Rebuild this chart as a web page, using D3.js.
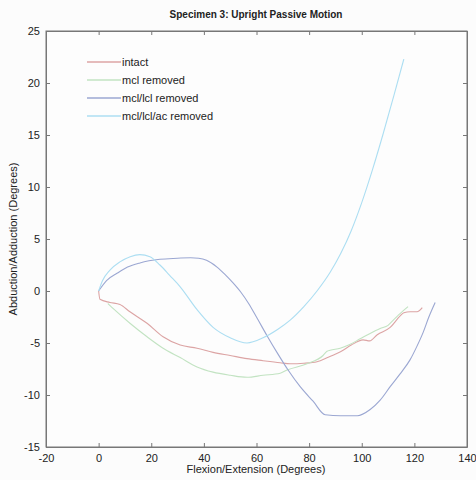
<!DOCTYPE html>
<html>
<head>
<meta charset="utf-8">
<script src="https://cdn.jsdelivr.net/npm/d3@7"></script>
<style>
  html, body { margin: 0; padding: 0; background: #fcfcfc; }
  svg { display: block; }
  text { font-family: "Liberation Sans", Arial, sans-serif; fill: #222; }
</style>
</head>
<body>
<svg id="chart" width="476" height="480"></svg>
<script>
// Flexion/extension angle (x) vs abduction/adduction angle (y), in degrees
const seriesNames = ["intact", "mcl removed", "mcl/lcl removed", "mcl/lcl/ac removed"];
const seriesColors = ["#dca4a4", "#c2e3c2", "#9ba7d2", "#acdef2"];

const intactX = [0, 0.5, 4.3, 8.1, 11.9, 18.4, 24.5, 31, 37.4, 43.5, 50, 56.4, 62.5, 69, 72.8, 78, 83, 87, 92.9, 96, 100.5, 103, 105.9, 110.8, 114.6, 116, 118.4, 121, 123];
const intactY = [0, -0.8, -1.1, -1.3, -2.0, -3.1, -4.4, -5.2, -5.5, -5.9, -6.2, -6.5, -6.7, -6.9, -7.0, -6.95, -6.8, -6.4, -5.7, -5.2, -4.7, -4.8, -4.2, -3.5, -2.4, -2.1, -2.0, -2.0, -1.6];

const mclX = [3.5, 6, 11.9, 18.4, 24.5, 31, 37.4, 43.5, 50, 56.4, 62.5, 69, 71.6, 79.2, 85.3, 86.8, 88, 91.8, 95, 99.4, 103, 107, 110, 112, 114, 117.6];
const mclY = [-1.2, -1.8, -3.1, -4.4, -5.5, -6.4, -7.3, -7.8, -8.1, -8.3, -8.1, -7.9, -7.6, -7.0, -6.2, -5.8, -5.7, -5.5, -5.2, -4.6, -4.1, -3.6, -3.3, -2.8, -2.3, -1.5];

const mclLclX = [0, 3, 7, 11, 15.7, 23.3, 30, 35, 38, 41, 45, 48, 51, 54, 57, 60.2, 64, 68, 72, 76.6, 81.5, 86.1, 92, 98.3, 103.2, 107, 110.8, 114.5, 118.4, 121, 123.3, 125.5, 127.9];
const mclLclY = [0, 1.0, 1.7, 2.3, 2.7, 3.05, 3.15, 3.2, 3.15, 2.95, 2.3, 1.6, 0.8, -0.1, -1.2, -2.6, -4.3, -6.0, -7.6, -9.2, -10.6, -11.9, -12.0, -12.0, -11.4, -10.5, -9.2, -8.0, -6.6, -5.3, -4.0, -2.5, -1.1];

const mclLclAcX = [0, 1.5, 4.3, 8.1, 12, 15.7, 19.5, 23.3, 27, 31, 37.4, 43.5, 50, 56.4, 62.5, 68, 72.8, 78, 83, 88, 92, 96, 100, 104, 108, 112, 116];
const mclLclAcY = [0, 1.0, 2.0, 2.8, 3.3, 3.5, 3.3, 2.5, 1.5, 0.4, -1.8, -3.5, -4.5, -5.0, -4.5, -3.7, -2.8, -1.5, 0.0, 1.8, 3.6, 5.8, 8.5, 11.6, 15.0, 18.6, 22.3];

const xTicks = [-20, 0, 20, 40, 60, 80, 100, 120, 140];
const yTicks = [-15, -10, -5, 0, 5, 10, 15, 20, 25];

const series = [
  { name: seriesNames[0], color: seriesColors[0], xs: intactX, ys: intactY },
  { name: seriesNames[1], color: seriesColors[1], xs: mclX, ys: mclY },
  { name: seriesNames[2], color: seriesColors[2], xs: mclLclX, ys: mclLclY },
  { name: seriesNames[3], color: seriesColors[3], xs: mclLclAcX, ys: mclLclAcY }
];

const svg = d3.select("#chart");
const plot = { left: 46, top: 31, right: 467, bottom: 447 };

const x = d3.scaleLinear().domain([-20, 140]).range([plot.left, plot.right]);
const y = d3.scaleLinear().domain([-15, 25]).range([plot.bottom, plot.top]);

// plot background and frame
svg.append("rect")
  .attr("x", plot.left).attr("y", plot.top)
  .attr("width", plot.right - plot.left).attr("height", plot.bottom - plot.top)
  .attr("fill", "#fdfdfd").attr("stroke", "#777").attr("stroke-width", 1);

// axes with inward ticks on all four sides; labels use a plain hyphen for negatives
const tickLen = 4;
const plain = d => String(d);
const axisStyle = g => {
  g.select(".domain").attr("stroke", "#777");
  g.selectAll(".tick line").attr("stroke", "#777");
  g.selectAll(".tick text")
    .style("font-family", "'Liberation Sans', Arial, sans-serif")
    .style("font-size", "11px").attr("fill", "#222");
};

svg.append("g").attr("transform", `translate(0,${plot.bottom})`)
  .call(d3.axisBottom(x).tickValues(xTicks).tickFormat(plain).tickSizeInner(-tickLen).tickSizeOuter(0).tickPadding(7))
  .call(axisStyle);
svg.append("g").attr("transform", `translate(0,${plot.top})`)
  .call(d3.axisTop(x).tickValues(xTicks).tickSizeInner(-tickLen).tickSizeOuter(0).tickFormat(""))
  .call(axisStyle);
svg.append("g").attr("transform", `translate(${plot.left},0)`)
  .call(d3.axisLeft(y).tickValues(yTicks).tickFormat(plain).tickSizeInner(-tickLen).tickSizeOuter(0).tickPadding(6))
  .call(axisStyle);
svg.append("g").attr("transform", `translate(${plot.right},0)`)
  .call(d3.axisRight(y).tickValues(yTicks).tickSizeInner(-tickLen).tickSizeOuter(0).tickFormat(""))
  .call(axisStyle);

// curves
const line = d3.line()
  .x(d => x(d[0]))
  .y(d => y(d[1]))
  .curve(d3.curveMonotoneX);

series.forEach(s => {
  const pts = s.xs.map((v, i) => [v, s.ys[i]]);
  svg.append("path")
    .datum(pts)
    .attr("d", line)
    .attr("fill", "none")
    .attr("stroke", s.color)
    .attr("stroke-width", 1.1)
    .attr("stroke-linejoin", "round");
});

// legend
const legend = svg.append("g");
series.forEach((s, i) => {
  const ly = 62 + i * 18;
  legend.append("line")
    .attr("x1", 87).attr("x2", 121).attr("y1", ly).attr("y2", ly)
    .attr("stroke", s.color).attr("stroke-width", 1.3);
  legend.append("text")
    .attr("x", 122).attr("y", ly).attr("dy", "0.35em")
    .style("font-size", "11px")
    .text(s.name);
});

// title and axis labels
svg.append("text")
  .attr("x", 256).attr("y", 18)
  .attr("text-anchor", "middle")
  .style("font-size", "10px").style("font-weight", "bold")
  .text("Specimen 3: Upright Passive Motion");

svg.append("text")
  .attr("x", 256).attr("y", 473)
  .attr("text-anchor", "middle")
  .style("font-size", "11px")
  .text("Flexion/Extension (Degrees)");

svg.append("text")
  .attr("transform", `translate(17,${(plot.top + plot.bottom) / 2}) rotate(-90)`)
  .attr("text-anchor", "middle")
  .style("font-size", "11px")
  .text("Abduction/Adduction (Degrees)");
</script>
</body>
</html>
